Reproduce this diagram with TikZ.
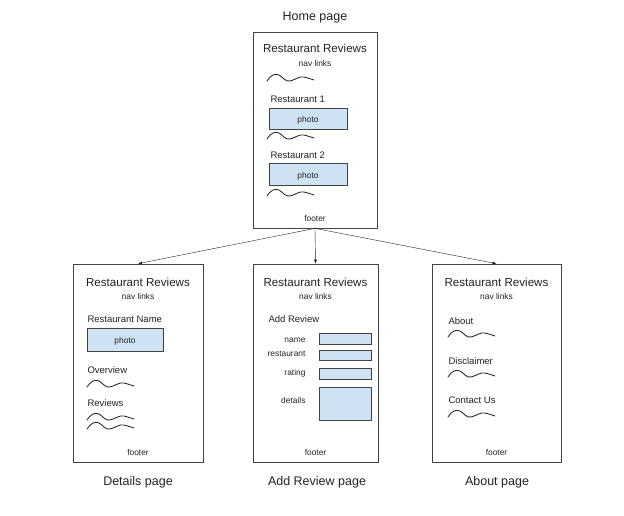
\documentclass[tikz,border=0pt]{standalone}
\usepackage{fontspec}
\setmainfont{Liberation Sans}
\usetikzlibrary{arrows.meta}
\definecolor{ink}{HTML}{222222}
\definecolor{photoblue}{HTML}{CFE2F3}
\tikzset{
pg/.style={draw=ink!85, line width=0.7pt, inner sep=0pt},
fld/.style={draw=ink!85, fill=photoblue, line width=0.7pt, inner sep=0pt},
ttl/.style={text=ink, font=\fontsize{12.5}{14}\selectfont},
hdr/.style={text=ink, font=\fontsize{11.6}{13}\selectfont},
sec/.style={text=ink, font=\fontsize{9.5}{11}\selectfont, anchor=west},
sm/.style={text=ink, font=\fontsize{8.4}{10}\selectfont},
wave/.pic={\draw[ink, line width=0.85pt, line cap=round] (0,3) .. controls (4,-3) and (8,-5) .. (12,-3)
  .. controls (16,-1) and (18,4) .. (23,3) .. controls (28,2) and (32,-2) .. (37,-1)
  .. controls (41,0) and (44,1) .. (47,2);}
}
\begin{document}
\begin{tikzpicture}[x=1pt, y=-1pt]
\useasboundingbox (0,0) rectangle (624,515);
\node[ttl] (t0) at (315,17){Home page};
\node[pg, minimum width=124, minimum height=196] (home) at (315,130){};
\node[hdr] (h0) at (315,48){Restaurant Reviews};
\node[sm] (n0) at (315,63){nav links};
\pic at (267,78) {wave};
\node[sec] (r1) at (267,99){Restaurant 1};
\node[fld, minimum width=78, minimum height=21] (p1) at (308,118.5){};
\node[sm] at ([yshift=-1.5]p1){photo};
\pic at (267,136) {wave};
\node[sec] (r2) at (267,155){Restaurant 2};
\node[fld, minimum width=78, minimum height=22] (p2) at (308,174.5){};
\node[sm] at ([yshift=-1.5]p2){photo};
\pic at (267,193) {wave};
\node[sm] (f0) at (315,218){footer};
\node[pg, minimum width=130, minimum height=198] (det) at (138,363){};
\node[hdr] (h1) at (138,282){Restaurant Reviews};
\node[sm] (n1) at (138,296){nav links};
\node[sec] (rn) at (84,319){Restaurant Name};
\node[fld, minimum width=76, minimum height=23] (p3) at (125,339.5){};
\node[sm] at ([yshift=-1.5]p3){photo};
\node[sec] (ov) at (84,370){Overview};
\pic at (87,384) {wave};
\node[sec] (rv) at (84,403){Reviews};
\pic at (87,417) {wave};
\pic at (87,426) {wave};
\node[sm] (f1) at (138,452){footer};
\node[ttl] (t1) at (138,482){Details page};
\node[pg, minimum width=125, minimum height=198] (add) at (315.5,363){};
\node[hdr] (h2) at (315.5,282){Restaurant Reviews};
\node[sm] (n2) at (315.5,296){nav links};
\node[sec] (ar) at (265,319){Add Review};
\node[sm, anchor=east] (l1) at (309,340){name};
\node[fld, minimum width=52, minimum height=11] (e1) at (345,338.5){};
\node[sm, anchor=east] (l2) at (309,354){restaurant};
\node[fld, minimum width=52, minimum height=10] (e2) at (345,355.5){};
\node[sm, anchor=east] (l3) at (309,373){rating};
\node[fld, minimum width=52, minimum height=11] (e3) at (345,373.5){};
\node[sm, anchor=east] (l4) at (309,400){details};
\node[fld, minimum width=52, minimum height=33] (e4) at (345,403.5){};
\node[sm] (f2) at (315.5,452){footer};
\node[ttl] (t2) at (317,482){Add Review page};
\node[pg, minimum width=129, minimum height=198] (abt) at (496.5,363){};
\node[hdr] (h3) at (496.5,282){Restaurant Reviews};
\node[sm] (n3) at (496.5,296){nav links};
\node[sec] (a1) at (445,321){About};
\pic at (448,334) {wave};
\node[sec] (a2) at (445,361){Disclaimer};
\pic at (448,374) {wave};
\node[sec] (a3) at (445,400){Contact Us};
\pic at (448,414) {wave};
\node[sm] (f3) at (496.5,452){footer};
\node[ttl] (t3) at (497,482){About page};
\draw[ink, -{Latex[length=4pt]}](home.south) -- (det.north);
\draw[ink, -{Latex[length=4pt]}](home.south) -- (add.north);
\draw[ink, -{Latex[length=4pt]}](home.south) -- (abt.north);
\end{tikzpicture}
\end{document}
